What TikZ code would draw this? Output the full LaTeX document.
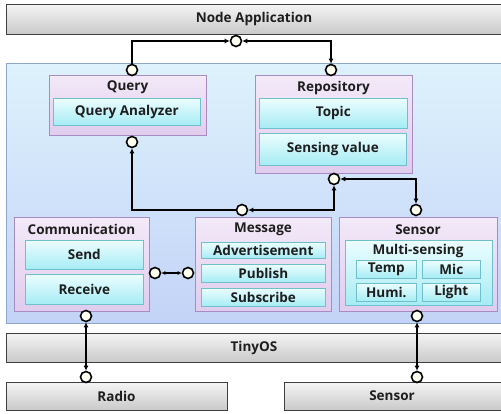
\documentclass[tikz,border=0pt]{standalone}
\usepackage{fontspec}
\setmainfont{Open Sans}
\usetikzlibrary{arrows.meta,shadows}

\definecolor{barTop}{HTML}{F4F4F4}
\definecolor{barBot}{HTML}{C9C9C9}
\definecolor{panelTop}{HTML}{DDF2FC}
\definecolor{panelBot}{HTML}{C3D3F7}
\definecolor{panelLine}{HTML}{8FA6C8}
\definecolor{lavTop}{HTML}{F3E9F8}
\definecolor{lavBot}{HTML}{E0CCEE}
\definecolor{lavLine}{HTML}{A98BC4}
\definecolor{cyTop}{HTML}{ECFDFF}
\definecolor{cyBot}{HTML}{A5ECF4}
\definecolor{cyLine}{HTML}{6FBFCC}
\definecolor{cream}{HTML}{FFFFF2}
\definecolor{ink}{HTML}{1E1E1E}

\tikzset{
  lbl/.style={font=\fontsize{13.5}{15}\selectfont\bfseries, text=ink, inner sep=0pt},
  bar/.style={draw=black!75, line width=0.8pt, top color=barTop, bottom color=barBot},
  panel/.style={draw=panelLine, line width=0.8pt, top color=panelTop, bottom color=panelBot},
  group/.style={draw=lavLine, line width=0.8pt, top color=lavTop, bottom color=lavBot,
    drop shadow={shadow xshift=1pt, shadow yshift=-1pt, opacity=0.25}},
  item/.style={draw=cyLine, line width=0.6pt, top color=cyTop, bottom color=cyBot,
    drop shadow={shadow xshift=1pt, shadow yshift=-1pt, opacity=0.25}},
  port/.style={circle, draw=black, line width=1.6pt, fill=cream, minimum size=11pt, inner sep=0pt},
  link/.style={line width=2pt, draw=black, line join=miter},
  tip/.tip={Latex[length=5pt,width=5pt]},
}

% box from its top-left corner: name, style, corner, width, height
\newcommand{\boxat}[5]{%
  \node[#2, anchor=north west, minimum width=#4, minimum height=#5, inner sep=0pt] (#1) at (#3) {};}

\begin{document}
\begin{tikzpicture}[x=1pt,y=-1pt]
\useasboundingbox (0,0) rectangle (501,414);
\clip (0,0) rectangle (501,414);

% operating layers
\boxat{app}{bar}{6,4}{497pt}{30pt}
\node[lbl] (appT) at (254,19) {Node Application};

\boxat{panel}{panel}{6,63}{497pt}{260pt}

\boxat{tiny}{bar}{6,333}{497pt}{29pt}
\node[lbl] (tinyT) at (254,347.5) {TinyOS};

\boxat{radio}{bar}{6,382}{221pt}{28pt}
\node[lbl] (radioT) at (116.5,396) {Radio};
\boxat{sbar}{bar}{284,382}{219pt}{28pt}
\node[lbl] (sbarT) at (392,396) {Sensor};

% Query
\boxat{query}{group}{49,75}{157pt}{60pt}
\node[lbl] (queryT) at (127.5,87.5) {Query};
\boxat{qa}{item}{53,98}{147pt}{27pt}
\node[lbl] at (qa) {Query Analyzer};

% Repository
\boxat{repo}{group}{255,75}{157pt}{98pt}
\node[lbl] (repoT) at (333.5,87.5) {Repository};
\boxat{topic}{item}{259,98}{148pt}{30pt}
\node[lbl] at (topic) {Topic};
\boxat{sval}{item}{259,133}{147pt}{32pt}
\node[lbl] at (sval) {Sensing value};

% Communication
\boxat{comm}{group}{14,217}{135pt}{94pt}
\node[lbl] (commT) at (81.5,229.5) {Communication};
\boxat{send}{item}{25,240}{118pt}{29pt}
\node[lbl] at (send) {Send};
\boxat{recv}{item}{25,274}{118pt}{30pt}
\node[lbl] at (recv) {Receive};

% Message
\boxat{msg}{group}{195,217}{136pt}{94pt}
\node[lbl] (msgT) at (263,229.5) {Message};
\boxat{adv}{item}{201,242}{124pt}{16pt}
\node[lbl] at (adv) {Advertisement};
\boxat{pub}{item}{201,264}{124pt}{18pt}
\node[lbl] at (pub) {Publish};
\boxat{sub}{item}{201,288}{124pt}{18pt}
\node[lbl] at (sub) {Subscribe};

% Sensor
\boxat{sens}{group}{339,217}{158pt}{94pt}
\node[lbl] (sensT) at (418,229.5) {Sensor};
\boxat{multi}{item}{345,240}{147pt}{65pt}
\node[lbl] (multiT) at (418,251) {Multi-sensing};
\boxat{temp}{item}{356,260}{60pt}{18pt}
\node[lbl] at (temp) {Temp};
\boxat{mic}{item}{422,260}{58pt}{18pt}
\node[lbl] at (mic) {Mic};
\boxat{humi}{item}{356,283}{60pt}{18pt}
\node[lbl] at (humi) {Humi.};
\boxat{light}{item}{422,283}{58pt}{18pt}
\node[lbl] at (light) {Light};

% interface ports
\node[port] (pApp)   at (236,41)  {};
\node[port] (pQtop)  at (132,70)  {};
\node[port] (pRtop)  at (331,70)  {};
\node[port] (pQbot)  at (132,142) {};
\node[port] (pRbot)  at (334,179) {};
\node[port] (pMsg)   at (242,210) {};
\node[port] (pSen)   at (416,210) {};
\node[port] (pCom)   at (155,273) {};
\node[port] (pMsgL)  at (188,273) {};
\node[port] (pComB)  at (86,316)  {};
\node[port] (pRadio) at (86,377)  {};
\node[port] (pSenB)  at (417,316) {};
\node[port] (pSensor) at (417,377) {};

% connectors
\draw[link, -tip] (pQtop) |- (pApp);
\draw[link, tip-tip] (pApp) -| (pRtop);
\draw[link, -tip] (pMsg) -| (pQbot);
\draw[link, tip-tip] (pMsg) -| (pRbot);
\draw[link, tip-tip] (pRbot) -| (pSen);
\draw[link, line width=1.5pt, {Latex[length=4pt,width=4pt]}-{Latex[length=4pt,width=4pt]}] (pCom) -- (pMsgL);
\draw[link, tip-tip] (pComB) -- (pRadio);
\draw[link, tip-tip] (pSenB) -- (pSensor);
\end{tikzpicture}
\end{document}
